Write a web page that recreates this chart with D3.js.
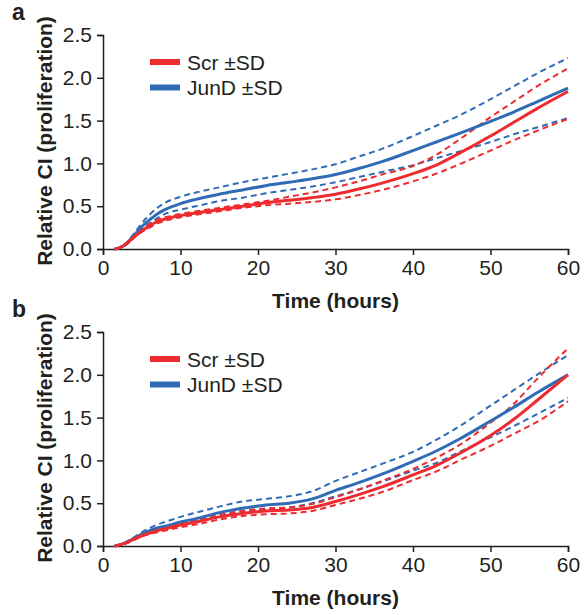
<!DOCTYPE html>
<html>
<head>
<meta charset="utf-8">
<script src="https://cdn.jsdelivr.net/npm/d3@7"></script>
<style>
  html, body { margin: 0; padding: 0; background: #fff; }
  svg { display: block; font-family: "Liberation Sans", Arial, Helvetica, sans-serif; }
</style>
</head>
<body>
<svg id="chart" width="584" height="615"></svg>
<script>
// Time points (hours) shared by every curve
const hours = [1.5, 2, 3, 4, 5, 6, 7, 8, 10, 12, 15, 18, 21, 24, 27, 30, 33, 36, 40, 43, 46, 50, 53, 56, 60];

// Panel a
const scrMeanA  = [0, 0.01, 0.06, 0.14, 0.21, 0.27, 0.32, 0.35, 0.39, 0.42, 0.46, 0.50, 0.54, 0.57, 0.60, 0.64, 0.70, 0.77, 0.88, 0.98, 1.12, 1.32, 1.48, 1.64, 1.84];
const scrUpperA = [0, 0.01, 0.07, 0.15, 0.22, 0.29, 0.34, 0.37, 0.41, 0.44, 0.48, 0.52, 0.56, 0.61, 0.66, 0.72, 0.79, 0.87, 0.97, 1.10, 1.28, 1.54, 1.72, 1.90, 2.11];
const scrLowerA = [0, 0.01, 0.05, 0.13, 0.20, 0.25, 0.30, 0.33, 0.37, 0.40, 0.44, 0.48, 0.51, 0.53, 0.55, 0.58, 0.63, 0.69, 0.79, 0.88, 0.99, 1.15, 1.27, 1.38, 1.52];
const junMeanA  = [0, 0.01, 0.06, 0.16, 0.26, 0.34, 0.41, 0.46, 0.53, 0.58, 0.64, 0.69, 0.74, 0.78, 0.82, 0.87, 0.94, 1.02, 1.15, 1.25, 1.35, 1.49, 1.60, 1.72, 1.88];
const junUpperA = [0, 0.01, 0.07, 0.18, 0.30, 0.40, 0.48, 0.54, 0.61, 0.66, 0.72, 0.78, 0.83, 0.88, 0.93, 0.99, 1.08, 1.17, 1.32, 1.44, 1.56, 1.75, 1.90, 2.05, 2.23];
const junLowerA = [0, 0.01, 0.05, 0.14, 0.23, 0.30, 0.36, 0.41, 0.46, 0.50, 0.56, 0.60, 0.65, 0.69, 0.73, 0.78, 0.84, 0.90, 0.98, 1.06, 1.14, 1.25, 1.34, 1.42, 1.53];

// Panel b
const scrMeanB  = [0, 0.01, 0.04, 0.08, 0.12, 0.15, 0.18, 0.20, 0.245, 0.28, 0.34, 0.38, 0.41, 0.42, 0.45, 0.52, 0.60, 0.69, 0.83, 0.94, 1.08, 1.29, 1.48, 1.70, 2.00];
const scrUpperB = [0, 0.01, 0.04, 0.09, 0.13, 0.17, 0.20, 0.22, 0.27, 0.31, 0.37, 0.41, 0.44, 0.45, 0.49, 0.57, 0.66, 0.76, 0.90, 1.03, 1.18, 1.44, 1.66, 1.95, 2.31];
const scrLowerB = [0, 0.01, 0.03, 0.07, 0.11, 0.14, 0.16, 0.18, 0.22, 0.25, 0.31, 0.35, 0.37, 0.38, 0.41, 0.48, 0.55, 0.63, 0.77, 0.87, 1.00, 1.17, 1.31, 1.45, 1.69];
const junMeanB  = [0, 0.01, 0.04, 0.09, 0.14, 0.18, 0.21, 0.23, 0.28, 0.32, 0.39, 0.44, 0.48, 0.50, 0.55, 0.65, 0.74, 0.84, 0.99, 1.11, 1.25, 1.46, 1.62, 1.79, 2.00];
const junUpperB = [0, 0.01, 0.05, 0.10, 0.16, 0.21, 0.25, 0.28, 0.34, 0.39, 0.46, 0.52, 0.55, 0.58, 0.64, 0.76, 0.86, 0.96, 1.10, 1.24, 1.40, 1.64, 1.82, 2.00, 2.23];
const junLowerB = [0, 0.01, 0.04, 0.08, 0.13, 0.16, 0.19, 0.21, 0.26, 0.30, 0.35, 0.40, 0.43, 0.45, 0.50, 0.58, 0.66, 0.75, 0.88, 0.97, 1.10, 1.27, 1.40, 1.54, 1.73];

// Axis ticks and labels
const xTicks = [0, 10, 20, 30, 40, 50, 60];
const yTicks = [0, 0.5, 1.0, 1.5, 2.0, 2.5];
const legendLabels = ["Scr \u00B1SD", "JunD \u00B1SD"];
const xTitle = "Time (hours)";
const yTitle = "Relative CI (proliferation)";

const RED = "#ee2b2f";
const BLUE = "#2f6cb5";
const AXIS = "#231f20";

const svg = d3.select("#chart");

const left = 103, right = 568, plotH = 214;
const x = d3.scaleLinear().domain([0, 60]).range([left, right]);

function panel(letter, top, scr, jun) {
  const y = d3.scaleLinear().domain([0, 2.5]).range([top + plotH, top]);
  const g = svg.append("g");

  // axes
  const xa = g.append("g")
    .attr("transform", `translate(0,${top + plotH})`)
    .call(d3.axisBottom(x).tickValues(xTicks).tickFormat(d3.format("d")).tickSizeOuter(0).tickSize(6).tickPadding(5));
  const ya = g.append("g")
    .attr("transform", `translate(${left},0)`)
    .call(d3.axisLeft(y).tickValues(yTicks).tickFormat(d3.format(".1f")).tickSizeOuter(0).tickSize(6).tickPadding(5));
  [xa, ya].forEach(a => {
    a.select(".domain").attr("stroke", AXIS).attr("stroke-width", 1.5);
    a.selectAll(".tick line").attr("stroke", AXIS).attr("stroke-width", 1.5);
    a.selectAll(".tick text").attr("fill", "#231f20").style("font-size", "21px")
      .style("font-family", "'Liberation Sans', Arial, sans-serif");
  });

  // axis titles
  g.append("text")
    .attr("x", (left + right) / 2).attr("y", top + plotH + 59)
    .attr("text-anchor", "middle")
    .style("font-size", "21px").style("font-weight", "bold").attr("fill", "#231f20")
    .text(xTitle);
  g.append("text")
    .attr("transform", `translate(52,${top + plotH / 2 - 1}) rotate(-90)`)
    .attr("text-anchor", "middle")
    .style("font-size", "21px").style("font-weight", "bold").attr("fill", "#231f20")
    .text(yTitle);

  // panel letter
  g.append("text")
    .attr("x", 12).attr("y", top - 15)
    .style("font-size", "23px").style("font-weight", "bold").attr("fill", "#231f20")
    .text(letter);

  const line = vals => d3.line()
    .x((d, i) => x(hours[i]))
    .y(d => y(d))
    .curve(d3.curveMonotoneX)(vals);

  // SD bands as dashed lines
  [[jun.upper, BLUE], [jun.lower, BLUE], [scr.upper, RED], [scr.lower, RED]].forEach(([vals, c]) => {
    g.append("path").attr("d", line(vals)).attr("fill", "none")
      .attr("stroke", c).attr("stroke-width", 2).attr("stroke-dasharray", "6,4");
  });
  // means
  [[jun.mean, BLUE], [scr.mean, RED]].forEach(([vals, c]) => {
    g.append("path").attr("d", line(vals)).attr("fill", "none")
      .attr("stroke", c).attr("stroke-width", 3).attr("stroke-linejoin", "round");
  });

  // legend
  const leg = g.append("g");
  [[legendLabels[0], RED], [legendLabels[1], BLUE]].forEach(([lab, c], i) => {
    const ly = top + 27 + i * 25.5;
    leg.append("line").attr("x1", 150).attr("x2", 180).attr("y1", ly).attr("y2", ly)
      .attr("stroke", c).attr("stroke-width", 6);
    leg.append("text").attr("x", 187).attr("y", ly + 7.5)
      .style("font-size", "21px").attr("fill", "#231f20").text(lab);
  });
}

panel("a", 35,
  { mean: scrMeanA, upper: scrUpperA, lower: scrLowerA },
  { mean: junMeanA, upper: junUpperA, lower: junLowerA });
panel("b", 332,
  { mean: scrMeanB, upper: scrUpperB, lower: scrLowerB },
  { mean: junMeanB, upper: junUpperB, lower: junLowerB });
</script>
</body>
</html>
